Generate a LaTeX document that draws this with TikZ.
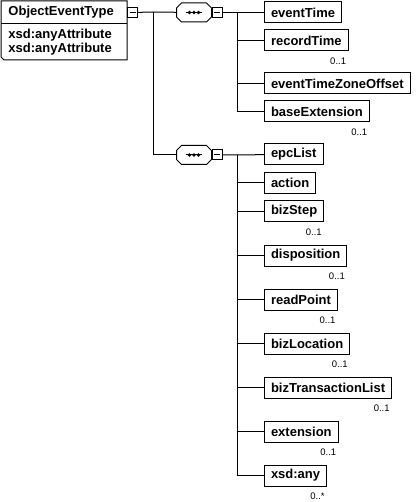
\documentclass[tikz,border=0pt]{standalone}
\usepackage{fontspec}
\setmainfont{Liberation Sans}
\usetikzlibrary{positioning}

\begin{document}
\begin{tikzpicture}[
  x=1pt, y=1pt, line width=1pt,
  elem/.style={rectangle, draw, font=\fontsize{13}{15}\selectfont\bfseries,
               minimum height=21pt, inner xsep=6.5pt, inner ysep=0pt},
  typehead/.style={rectangle, text width=111pt, inner xsep=7pt, inner ysep=0pt,
                   minimum height=22pt, align=left, font=\fontsize{13}{14}\selectfont\bfseries},
  typeattr/.style={typehead, minimum height=35pt},
  collapse/.style={rectangle, draw, fill=white, minimum size=10pt, inner sep=0pt,
                   path picture={\draw ([xshift=-3pt]path picture bounding box.center)
                                 -- ([xshift=3pt]path picture bounding box.center);}},
  seqbox/.style={rectangle, minimum width=34pt, minimum height=18pt, inner sep=0pt,
                 path picture={
                   \draw ([xshift=-8pt]path picture bounding box.center)
                      -- ([xshift=8pt]path picture bounding box.center);
                   \foreach \dx in {-4.5,0,4.5}
                     \fill ([xshift=\dx pt]path picture bounding box.center) circle (1.8pt);}},
  occur/.style={font=\fontsize{9.5}{10}\selectfont, inner sep=0pt, anchor=north east},
]
\useasboundingbox (0,0) rectangle (418,-502);

\node[typehead, anchor=north west] (objHead) at (1,-1) {ObjectEventType};
\node[typeattr, below=0pt of objHead] (objAttr) {xsd:anyAttribute\\xsd:anyAttribute};
\draw (objHead.north west) -- (objHead.north east) -- (objAttr.south east)
  -- ([xshift=3pt]objAttr.south west) -- ([yshift=3pt]objAttr.south west) -- cycle;
\draw (objHead.south west) -- (objHead.south east);
\node[collapse, right=0pt of objHead] (objMinus) {};

\coordinate (trunk) at (153,-12);
\node[seqbox] (seqA) at (194,-12.5) {};
\node[collapse, right=0pt of seqA] (seqAMinus) {};
\node[seqbox] (seqB) at (194,-155) {};
\node[collapse, right=0pt of seqB] (seqBMinus) {};
\foreach \s in {seqA, seqB}
  \draw ([xshift=5pt]\s.north west) -- ([xshift=-5pt]\s.north east)
    -- ([yshift=-5pt]\s.north east) -- ([yshift=5pt]\s.south east)
    -- ([xshift=-5pt]\s.south east) -- ([xshift=5pt]\s.south west)
    -- ([yshift=5pt]\s.south west) -- ([yshift=-5pt]\s.north west) -- cycle;
\coordinate (busA) at (237,-12.5);
\coordinate (busB) at (237,-155);

\node[elem, anchor=west] (evTime) at (264,-12.5) {eventTime};
\node[elem, below=6pt of evTime.south west, anchor=north west] (recTime) {recordTime};
\node[elem, below=21pt of recTime.south west, anchor=north west] (tzOffset) {eventTimeZoneOffset};
\node[elem, below=6pt of tzOffset.south west, anchor=north west] (baseExt) {baseExtension};

\node[elem, anchor=west] (epcList) at (264,-154.5) {epcList};
\node[elem, below=6.5pt of epcList.south west, anchor=north west] (action) {action};
\node[elem, below=6.5pt of action.south west, anchor=north west] (bizStep) {bizStep};
\node[elem, below=22pt of bizStep.south west, anchor=north west] (disposition) {disposition};
\node[elem, below=22pt of disposition.south west, anchor=north west] (readPoint) {readPoint};
\node[elem, below=22pt of readPoint.south west, anchor=north west] (bizLoc) {bizLocation};
\node[elem, below=22pt of bizLoc.south west, anchor=north west] (bizTx) {bizTransactionList};
\node[elem, below=22pt of bizTx.south west, anchor=north west] (extension) {extension};
\node[elem, below=22pt of extension.south west, anchor=north west] (xsdAny) {xsd:any};

\node[occur] (recTimeOcc) at ([xshift=-2pt,yshift=-6pt]recTime.south east) {0..1};
\node[occur] (baseExtOcc) at ([xshift=-2pt,yshift=-6pt]baseExt.south east) {0..1};
\node[occur] (bizStepOcc) at ([xshift=-2pt,yshift=-6pt]bizStep.south east) {0..1};
\node[occur] (dispositionOcc) at ([xshift=-2pt,yshift=-6pt]disposition.south east) {0..1};
\node[occur] (readPointOcc) at ([xshift=-2pt,yshift=-6pt]readPoint.south east) {0..1};
\node[occur] (bizLocOcc) at ([xshift=-2pt,yshift=-6pt]bizLoc.south east) {0..1};
\node[occur] (bizTxOcc) at ([xshift=-2pt,yshift=-6pt]bizTx.south east) {0..1};
\node[occur] (extensionOcc) at ([xshift=-2pt,yshift=-6pt]extension.south east) {0..1};
\node[occur] (xsdAnyOcc) at ([xshift=-2pt,yshift=-6pt]xsdAny.south east) {0..*};

\draw (objMinus) -- (trunk) -- (seqA);
\draw (trunk) |- (seqB);
\draw (seqAMinus) -- (evTime);
\draw (seqBMinus) -- (epcList);
\draw (busA) -- (busA |- baseExt);
\draw (busB) -- (busB |- xsdAny);
\foreach \el in {recTime, tzOffset, baseExt}
  \draw (busA |- \el) -- (\el);
\foreach \el in {action, bizStep, disposition, readPoint, bizLoc, bizTx, extension, xsdAny}
  \draw (busB |- \el) -- (\el);
\end{tikzpicture}
\end{document}
